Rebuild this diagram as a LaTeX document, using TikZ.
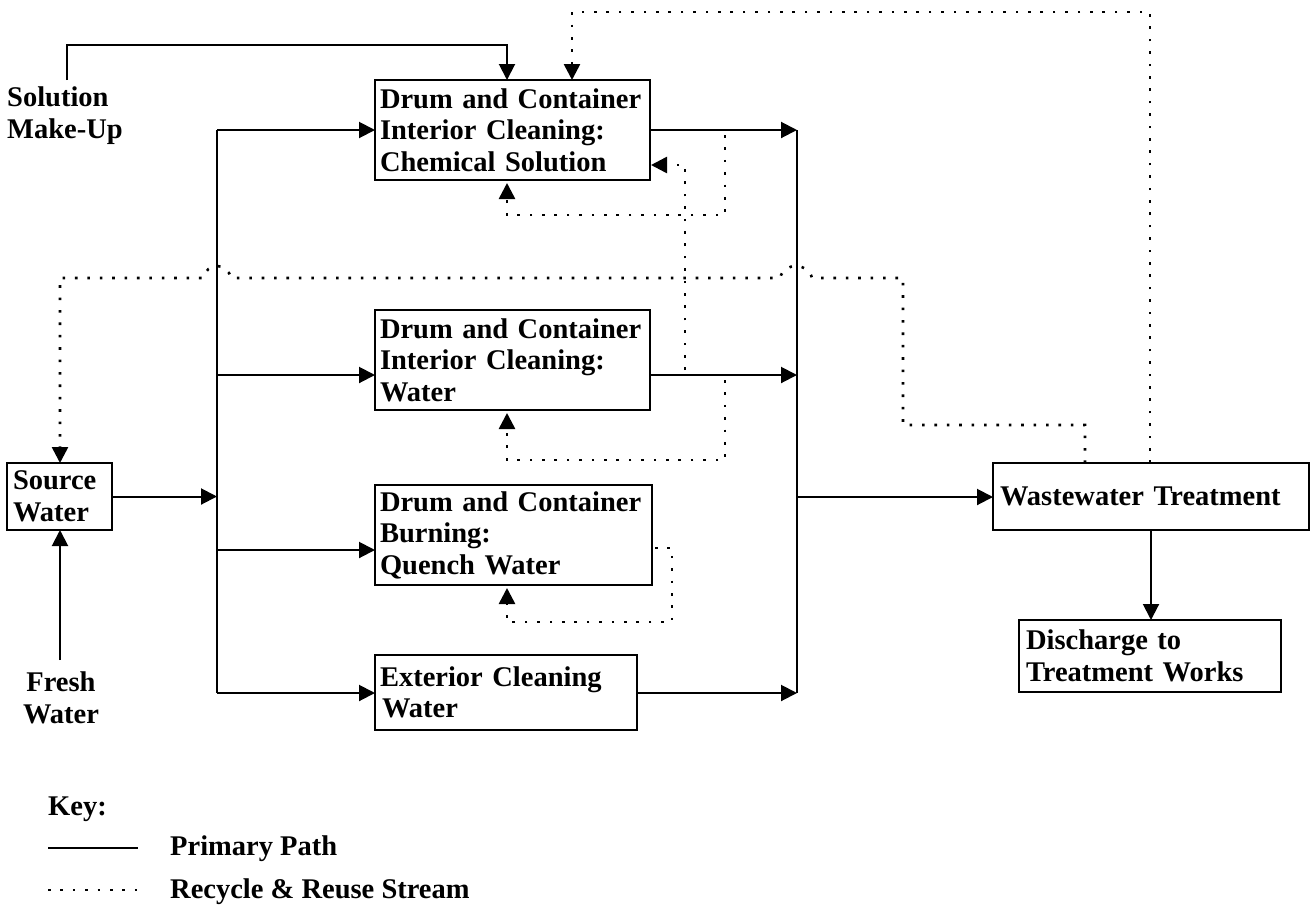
\documentclass[tikz,border=0pt]{standalone}
\usepackage{fontspec}
\setmainfont{Liberation Serif}
\usetikzlibrary{arrows.meta}
\hyphenpenalty=10000
\exhyphenpenalty=10000
\begin{document}
\begin{tikzpicture}[x=1pt,y=-1pt,
  font=\fontsize{28.5}{31.5}\selectfont\bfseries,
  box/.style={draw, line width=1.8pt, inner xsep=5pt, inner ysep=0pt, align=left, anchor=north west, outer sep=0pt},
  prim/.style={line width=2pt},
  rec/.style={line width=2.6pt, dash pattern=on 2.6pt off 9.8pt, line cap=butt},
  tip/.style={-{Triangle[length=16pt,width=16pt]}},
  lbl/.style={inner sep=0pt, align=left}
]
\useasboundingbox (0,0) rectangle (1311,908);

% boxes
\node[box, minimum width=275pt, minimum height=100pt, text width=265pt] (chem) at (375,80) {Drum and Container\\Interior Cleaning:\\Chemical Solution};
\node[box, minimum width=275pt, minimum height=100pt, text width=265pt] (water) at (375,310) {Drum and Container\\Interior Cleaning:\\Water};
\node[box, minimum width=277pt, minimum height=100pt, text width=267pt] (quench) at (375,485) {Drum and Container\\Burning:\\Quench Water};
\node[box, minimum width=262pt, minimum height=75pt, text width=252pt] (ext) at (375,655) {Exterior Cleaning\\\hspace*{2pt}Water};
\node[box, minimum width=316pt, minimum height=67pt, text width=302pt, inner xsep=7pt] (ww) at (993,463) {Wastewater Treatment};
\node[box, minimum width=262pt, minimum height=72pt, text width=248pt, inner xsep=7pt] (dis) at (1019,620) {Discharge to\\Treatment Works};
\node[box, minimum width=105pt, minimum height=67pt, text width=93pt, inner xsep=6pt] (src) at (7,463) {Source\\Water};

% free labels
\node[lbl, anchor=north west] (sol) at (7,87) {Solution\\Make-Up};
\node[lbl, anchor=north, align=center] (fresh) at (61,672) {Fresh\\Water};

% coordinates
\coordinate (soltop) at (67,80);
\coordinate (solc) at (67,45);
\coordinate (chemA) at (507,80);
\coordinate (chemB) at (572,80);
\coordinate (fw) at (60,660);
\coordinate (bl1) at (217,130);
\coordinate (bl2) at (217,375);
\coordinate (bl3) at (217,550);
\coordinate (bl4) at (217,693);
\coordinate (br1) at (797,130);
\coordinate (br2) at (797,375);
\coordinate (br3) at (797,497);
\coordinate (br4) at (797,693);

% primary paths
\draw[prim,tip] (soltop) -- (solc) -| (chemA);
\draw[prim,tip] (fw) -- (fw |- src.south);
\draw[prim,tip] (src.east) -- (src.east -| bl1);
\draw[prim] (bl1) -- (bl4);
\draw[prim,tip] (bl1) -- (bl1 -| chem.west);
\draw[prim,tip] (bl2) -- (bl2 -| water.west);
\draw[prim,tip] (bl3) -- (bl3 -| quench.west);
\draw[prim,tip] (bl4) -- (bl4 -| ext.west);
\draw[prim] (br1) -- (br4);
\draw[prim,tip] (br1 -| chem.east) -- (br1);
\draw[prim,tip] (br2 -| water.east) -- (br2);
\draw[prim,tip] (br4 -| ext.east) -- (br4);
\draw[prim,tip] (br3) -- (br3 -| ww.west);
\draw[prim,tip] (ww.south) -- (ww.south |- dis.north);

% recycle streams
\coordinate (wwA) at (1150,463);
\coordinate (wwB) at (1085,463);
\draw[rec,tip] (wwA) -- (1150,12) -- (572,12) -- (chemB);
\draw[rec,tip] (wwB) -- (1085,425) -- (903,425) -- (903,278) -- (812,278)
  .. controls (808,262) and (784,262) .. (780,278) -- (231,278)
  .. controls (227,262) and (207,262) .. (203,278) -- (60,278) -- (60,463);
\draw[rec,tip] (725,135) -- (725,215) -- (507,215) -- (507,183);
\draw[rec,tip] (725,380) -- (725,460) -- (507,460) -- (507,413);
\draw[rec,tip] (685,370) -- (685,165) -- (651,165);
\draw[rec,tip] (655,548) -- (672,548) -- (672,622) -- (507,622) -- (507,588);

% key
\node[lbl, anchor=base west] (key) at (48,815) {Key:};
\draw[prim] (48,848) -- (138,848);
\node[lbl, anchor=base west] (kp) at (170,855) {Primary Path};
\draw[rec] (48,890) -- (138,890);
\node[lbl, anchor=base west] (kr) at (170,898) {Recycle \& Reuse Stream};
\end{tikzpicture}
\end{document}
